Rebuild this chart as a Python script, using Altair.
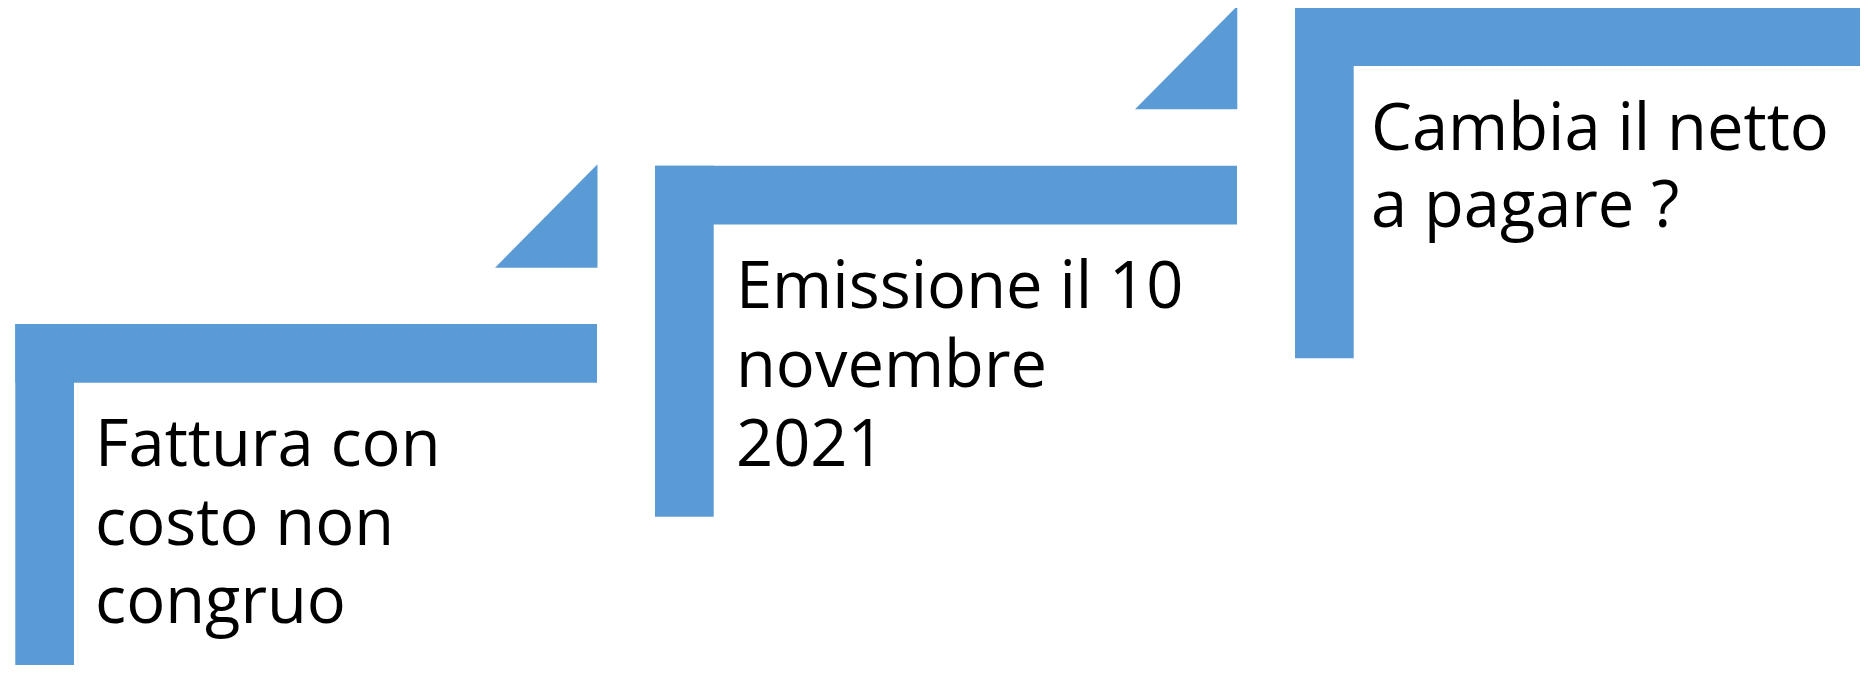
import altair as alt
import pandas as pd

# --- data (image pixel coordinates) ---
step_left = [15.3, 655.0, 1295.0]        # left edge of each step's vertical bar
step_top = [324.0, 165.7, 7.3]           # top edge of each step
bar_thick = [58.7, 58.7, 58.7]           # thickness of the bars
vbar_bottom = [673.0, 516.7, 358.3]      # bottom edge of vertical bars
hbar_right = [597.0, 1237.0, 1868.0]     # right edge of horizontal bars

tri_left = [495.0, 1135.0]
tri_right = [597.5, 1237.3]
tri_base = [267.7, 109.3]
tri_apex = [164.3, 6.0]

labels = [
    ["Fattura con", "costo non", "congruo"],
    ["Emissione il 10", "novembre", "2021"],
    ["Cambia il netto", "a pagare ?"],
]
label_x = [95.0, 736.0, 1371.0]
label_first_baseline = [466.0, 308.0, 150.0]
line_gap = [78.5, 79.0, 77.0]

BLUE = "#5B9BD5"

# --- tables ---
rect_rows = []
for i in range(3):
    rect_rows.append(dict(x=step_left[i], x2=step_left[i] + bar_thick[i],
                          y=step_top[i], y2=vbar_bottom[i]))
    rect_rows.append(dict(x=step_left[i], x2=hbar_right[i],
                          y=step_top[i], y2=step_top[i] + bar_thick[i]))
rects = pd.DataFrame(rect_rows)

tri_rows = []
for i in range(len(tri_left)):
    tri_rows.append(dict(t=i, x=tri_left[i], y=tri_base[i], y2=tri_base[i]))
    tri_rows.append(dict(t=i, x=tri_right[i], y=tri_base[i], y2=tri_apex[i]))
tris = pd.DataFrame(tri_rows)

text_rows = []
for i, lines in enumerate(labels):
    for j, s in enumerate(lines):
        text_rows.append(dict(x=label_x[i], y=label_first_baseline[i] + j * line_gap[i], label=s))
texts = pd.DataFrame(text_rows)

xs = alt.Scale(domain=[8, 1860], nice=False, zero=False)
ys = alt.Scale(domain=[8, 665], reverse=True, nice=False, zero=False)

rect_layer = alt.Chart(rects).mark_rect(color=BLUE, strokeWidth=0).encode(
    x=alt.X("x:Q", scale=xs, axis=None),
    x2="x2:Q",
    y=alt.Y("y:Q", scale=ys, axis=None),
    y2="y2:Q",
)

tri_layer = alt.Chart(tris).mark_area(color=BLUE, opacity=1, interpolate="linear").encode(
    x=alt.X("x:Q", scale=xs, axis=None),
    y=alt.Y("y:Q", scale=ys, axis=None),
    y2="y2:Q",
    detail="t:N",
)

text_layer = alt.Chart(texts).mark_text(
    align="left", baseline="alphabetic", font="Open Sans", fontSize=65, color="#000000"
).encode(
    x=alt.X("x:Q", scale=xs, axis=None),
    y=alt.Y("y:Q", scale=ys, axis=None),
    text="label:N",
)

chart = alt.layer(rect_layer, tri_layer, text_layer).properties(
    width=1852, height=657, padding=0, autosize=alt.AutoSizeParams(type="none"),
    background="white",
).configure_view(strokeWidth=0)

chart.save("out.html", embed_options={"renderer": "svg", "actions": False})
